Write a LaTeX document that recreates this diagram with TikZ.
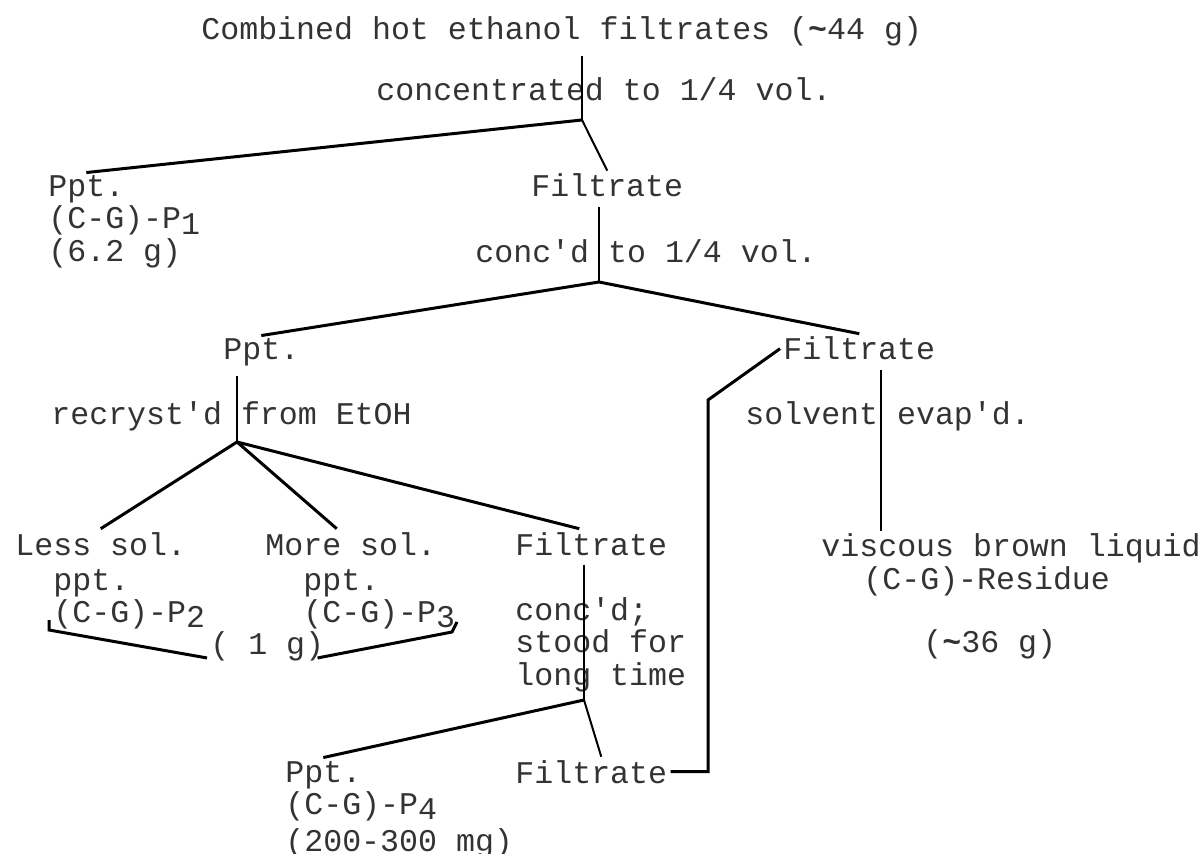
\documentclass[tikz,border=0pt]{standalone}
\usepackage{fontspec}
\newfontfamily\typew{Liberation Mono}
\newcommand\lowno[1]{\raisebox{-0.18em}{#1}}
\tikzset{
  typed/.style={font=\typew\fontsize{15.8}{16}\selectfont, text=black!80, inner sep=1.5pt, anchor=base west},
  branch/.style={line width=1.5pt},
  stem/.style={line width=1pt},
  drop/.style={stem, shorten <=3pt}
}
\begin{document}
\begin{tikzpicture}[x=0.5pt,y=-0.5pt]
  \useasboundingbox (0,0) rectangle (1203,854);

  \node[typed] (top) at (198,40) {Combined hot ethanol filtrates ({\bfseries\textasciitilde}44 g)};
  \node[typed] (concA) at (373,101) {concentrated to 1/4 vol.};
  \node[typed] (pptA) at (45,197) {Ppt.};
  \node[typed] (pptAid) at (45,229) {(C-G)-P\lowno{1}};
  \node[typed] (pptAmass) at (45,262) {(6.2 g)};
  \node[typed] (filtA) at (528,197) {Filtrate};
  \node[typed] (concB) at (472,263) {conc\textquotesingle d to 1/4 vol.};
  \node[typed] (pptB) at (220,360) {Ppt.};
  \node[typed] (filtB) at (780,360) {Filtrate};
  \node[typed] (recryst) at (48,425) {recryst\textquotesingle d from EtOH};
  \node[typed] (evap) at (742,425) {solvent evap\textquotesingle d.};
  \node[typed] (lessA) at (12,555) {Less sol.};
  \node[typed] (lessB) at (50,590) {ppt.};
  \node[typed] (lessC) at (50,622) {(C-G)-P\lowno{2}};
  \node[typed] (moreA) at (262,555) {More sol.};
  \node[typed] (moreB) at (300,590) {ppt.};
  \node[typed] (moreC) at (300,622) {(C-G)-P\lowno{3}};
  \node[typed] (onegram) at (207,654) {( 1 g)};
  \node[typed] (filtC) at (512,555) {Filtrate};
  \node[typed] (standA) at (512,620) {conc\textquotesingle d;};
  \node[typed] (standB) at (512,652) {stood for};
  \node[typed] (standC) at (512,685) {long time};
  \node[typed] (viscA) at (818,557) {viscous brown liquid};
  \node[typed] (viscB) at (860,589) {(C-G)-Residue};
  \node[typed] (viscC) at (920,652) {({\bfseries\textasciitilde}36 g)};
  \node[typed] (pptD) at (282,782) {Ppt.};
  \node[typed] (pptDid) at (282,814) {(C-G)-P\lowno{4}};
  \node[typed] (pptDmass) at (282,851) {(200-300 mg)};
  \node[typed] (filtD) at (512,783) {Filtrate};

  % branch points
  \coordinate (j1) at (582,120);
  \coordinate (j2) at (599,282);
  \coordinate (j3) at (237,442);
  \coordinate (j4) at (584,700);
  \coordinate (k1) at (708,400);
  \coordinate (s5) at (881,0);
  \coordinate (lb) at (49,620);
  \coordinate (rb) at (457,622);

  \draw[drop] (top.south -| j1) -- (j1);
  \draw[branch] (j1) -- (pptA.north);
  \draw[stem] (j1) -- (filtA.north);

  \draw[drop] (filtA.south -| j2) -- (j2);
  \draw[branch] (pptB.north) -- (j2) -- (filtB.north);

  \draw[drop] (pptB.south -| j3) -- (j3);
  \draw[branch] (j3) -- (lessA.north);
  \draw[branch] (j3) -- ([xshift=-7pt]moreA.north);
  \draw[branch] (j3) -- ([xshift=-6pt]filtC.north);

  \draw[branch] (lb) -- ++(0,10) -- ([yshift=3pt]onegram.south west);
  \draw[branch] (rb) -- ++(-5,10) -- ([shift={(-5pt,3pt)}]onegram.south east);

  \draw[drop] (filtC.south -| j4) -- (j4);
  \draw[branch] (j4) -- (pptD.north);
  \draw[stem] (j4) -- ([xshift=5pt]filtD.north);

  \draw[branch] (filtD.east) -| (k1) -- (filtB.west);
  \draw[drop] (filtB.south -| s5) -- (viscA.north -| s5);
\end{tikzpicture}
\end{document}
